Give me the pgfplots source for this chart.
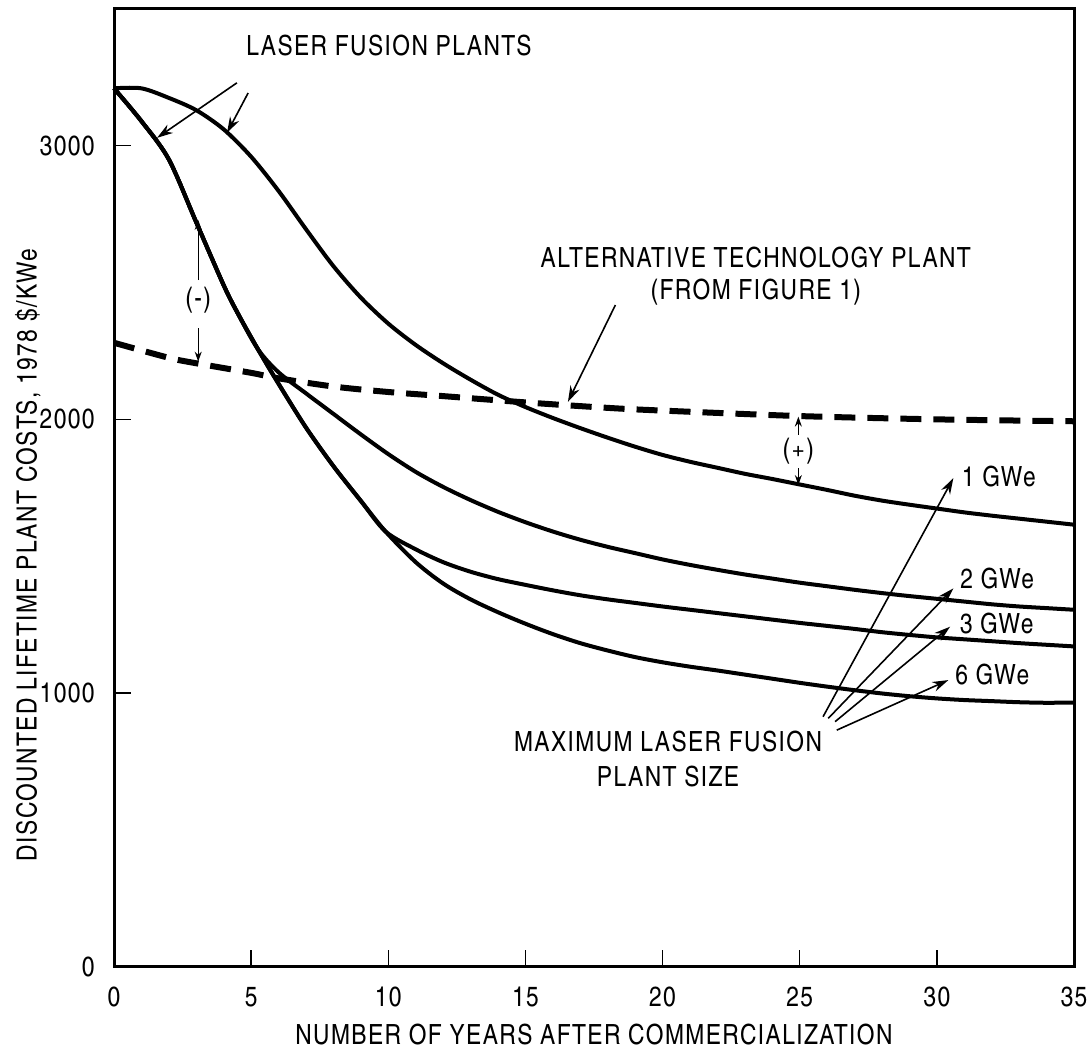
\documentclass[border=0pt]{standalone}
\usepackage{fontspec}
\setmainfont{texgyreheroscn-regular.otf}[LetterSpace=5]
\usepackage{pgfplots}
\pgfplotsset{compat=1.18}
\usetikzlibrary{arrows.meta}

\begin{document}
\begin{tikzpicture}[font=\fontsize{13.9}{17.5}\selectfont,
  arr/.style={-{Stealth[length=8pt,width=5pt]}, line width=0.8pt},
  sarr/.style={-{Stealth[length=5pt,width=3.5pt]}, line width=0.6pt}]
\path[use as bounding box] (-57pt,-43.75pt) rectangle (488pt,483.25pt);
\begin{axis}[
  scale only axis, width=480pt, height=478.75pt,
  at={(0,0)}, anchor=south west,
  xmin=0, xmax=35, ymin=0, ymax=3500,
  clip=false,
  axis line style={line width=1.5pt},
  xtick={0,5,...,35}, ytick={0,1000,2000,3000},
  tick align=inside, xtick pos=bottom, ytick pos=left,
  major tick length=8.5pt,
  every tick/.style={black, line width=0.7pt},
  /pgf/number format/assume math mode=true,
  /pgf/number format/1000 sep={},
  xticklabel style={inner sep=0pt, yshift=-10pt},
  yticklabel style={inner sep=0pt, xshift=-9.5pt},
  xlabel={NUMBER OF YEARS AFTER COMMERCIALIZATION},
  xlabel style={at={(axis description cs:0.5,-0.0715)}, anchor=center, inner sep=0pt},
  ylabel={DISCOUNTED LIFETIME PLANT COSTS, 1978 \$/KWe},
  ylabel style={at={(axis description cs:-0.0896,0.43)}, anchor=center, inner sep=0pt},
]

% alternative technology plant (dashed)
\addplot[line width=3pt, dash pattern=on 10.5pt off 6pt, smooth] coordinates {
 (0,2280) (2,2225) (3,2205) (5,2170) (6,2150) (8,2120) (10,2100) (12,2085)
 (15,2062) (18,2042) (20,2032) (25,2012) (30,2000) (35,1993)};

% 1 GWe laser fusion plant
\addplot[line width=2pt, smooth] coordinates {
 (0,3210) (1,3210) (2,3175) (3,3130) (4,3060) (5,2960) (6,2835) (7,2695)
 (8,2560) (9,2445) (10,2350) (11,2272) (12,2205) (13,2145) (14,2090) (15,2045)
 (16,2005) (17,1968) (18,1933) (19,1900) (20,1870) (21,1845) (22,1823) (23,1801)
 (24,1782) (25,1762) (26,1742) (27,1721) (28,1703) (29,1688) (30,1674) (31,1660)
 (32,1648) (33,1637) (34,1626) (35,1615)};

% 2 GWe laser fusion plant
\addplot[line width=2pt, smooth] coordinates {
 (0,3210) (1,3090) (2,2950) (3,2720) (4,2490) (4.5,2390) (5.25,2256)
 (6,2172) (7,2095) (8,2020) (9,1945) (10,1873) (11,1808) (12,1753) (13,1705)
 (14,1662) (15,1624) (16,1590) (17,1560) (18,1534) (19,1511) (20,1488) (21,1468)
 (22,1450) (23,1433) (24,1418) (25,1403) (26,1390) (27,1377) (28,1365) (29,1354)
 (30,1344) (31,1334) (32,1324) (33,1316) (34,1310) (35,1304)};

% 3 GWe laser fusion plant
\addplot[line width=2pt, smooth] coordinates {
 (0,3210) (1,3090) (2,2950) (3,2720) (4,2490) (4.5,2390) (5.25,2256)
 (6,2130) (7,1970) (8,1829) (9,1702) (9.9,1590)
 (11,1525) (12,1478) (13,1443) (14,1416) (15,1395) (16,1375) (17,1357) (18,1342)
 (19,1329) (20,1316) (21,1304) (22,1292) (23,1280) (24,1268) (25,1256) (26,1245)
 (27,1234) (28,1222) (29,1212) (30,1203) (31,1196) (32,1189) (33,1182) (34,1176)
 (35,1170)};

% 6 GWe laser fusion plant
\addplot[line width=2pt, smooth] coordinates {
 (0,3210) (1,3090) (2,2950) (3,2720) (4,2490) (4.5,2390) (5.25,2256)
 (6,2130) (7,1970) (8,1829) (9,1702) (9.9,1590)
 (11,1478) (12,1400) (13,1342) (14,1295) (15,1253) (16,1215) (17,1182) (18,1155)
 (19,1131) (20,1112) (21,1096) (22,1082) (23,1067) (24,1052) (25,1037) (26,1023)
 (27,1010) (28,998) (29,988) (30,980) (31,974) (32,970) (33,966) (34,964) (35,965)};

% annotations
\node[anchor=west, inner sep=0pt] at (axis cs:4.81,3368) {LASER FUSION PLANTS};
\draw[arr] (axis cs:4.48,3230) -- (axis cs:1.57,3029);
\draw[arr] (axis cs:4.89,3193) -- (axis cs:4.12,3047);

\node[align=center, inner sep=0pt, font=\fontsize{13.9}{16}\selectfont]
  at (axis cs:23.4,2524) {ALTERNATIVE TECHNOLOGY PLANT\\(FROM FIGURE 1)};
\draw[arr] (axis cs:18.28,2418) -- (axis cs:16.55,2064);

\node[inner sep=0pt] at (axis cs:3.07,2437) {(-)};
\draw[sarr] (axis cs:3.07,2509) -- (axis cs:3.07,2729);
\draw[sarr] (axis cs:3.07,2333) -- (axis cs:3.07,2211);

\node[inner sep=0pt] at (axis cs:24.95,1882) {(+)};
\draw[sarr] (axis cs:24.95,1943) -- (axis cs:24.95,2010);
\draw[sarr] (axis cs:24.95,1822) -- (axis cs:24.95,1760);

\node[anchor=west, inner sep=0pt] at (axis cs:30.9,1790) {1 GWe};
\node[anchor=west, inner sep=0pt] at (axis cs:30.84,1419) {2 GWe};
\node[anchor=west, inner sep=0pt] at (axis cs:30.82,1254) {3 GWe};
\node[anchor=west, inner sep=0pt] at (axis cs:30.66,1066) {6 GWe};

\draw[arr] (axis cs:25.85,913) -- (axis cs:30.6,1785);
\draw[arr] (axis cs:26.04,907) -- (axis cs:30.6,1382);
\draw[arr] (axis cs:26.29,895) -- (axis cs:30.48,1242);
\draw[arr] (axis cs:26.35,864) -- (axis cs:30.42,1047);

\node[align=center, inner sep=0pt] at (axis cs:20.2,757)
  {MAXIMUM LASER FUSION\\PLANT SIZE};
\end{axis}
\end{tikzpicture}
\end{document}
